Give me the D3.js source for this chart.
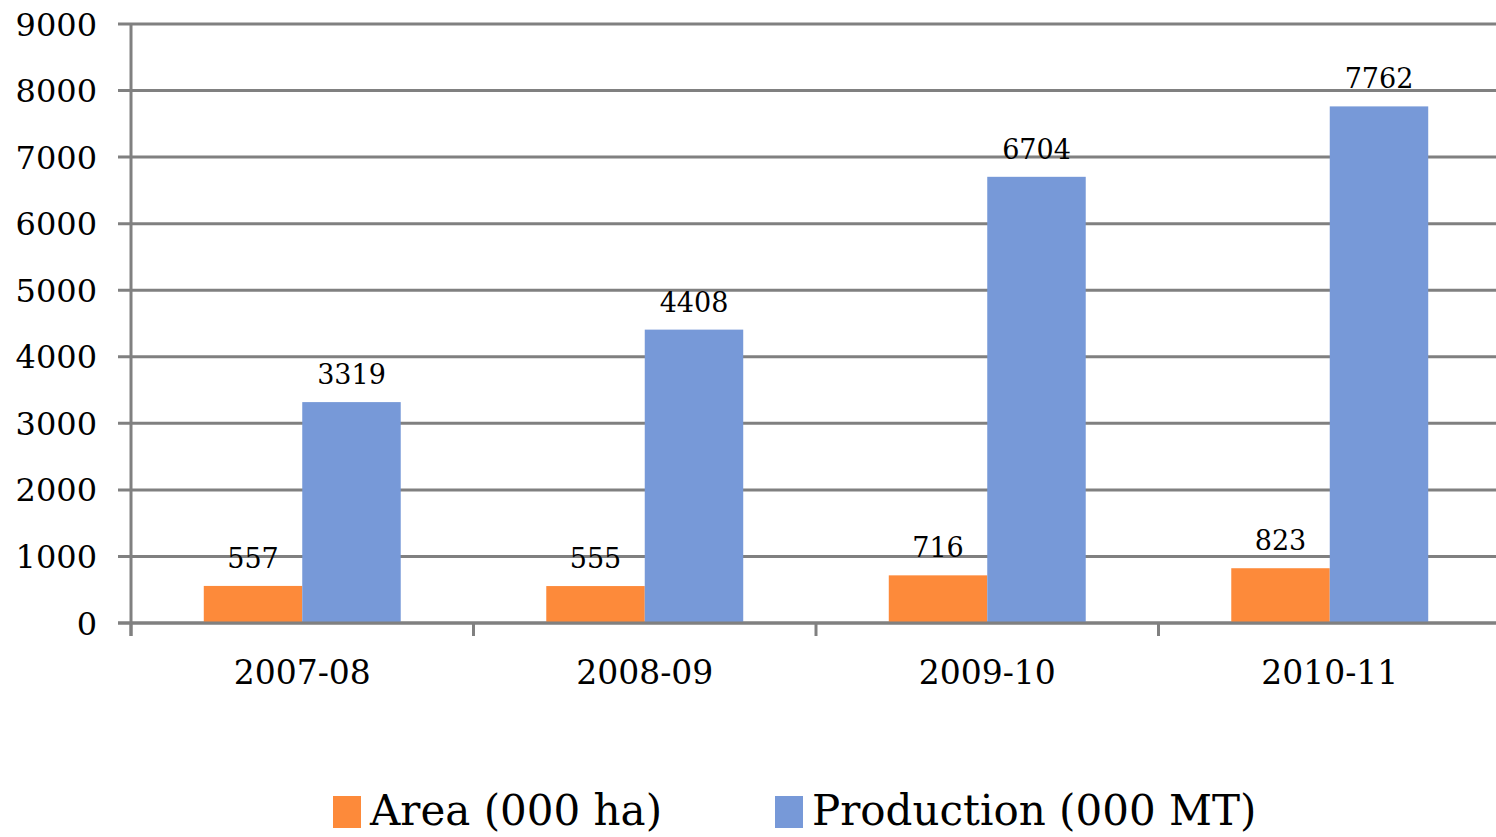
<!DOCTYPE html>
<html>
<head>
<meta charset="utf-8">
<script src="https://cdn.jsdelivr.net/npm/d3@7/dist/d3.min.js"></script>
<style>
  html, body { margin: 0; padding: 0; background: #ffffff; }
  svg { display: block; }
  text { font-family: "DejaVu Serif", "Liberation Serif", serif; fill: #000; }
</style>
</head>
<body>
<svg id="chart" width="1496" height="837"></svg>
<script>
// Crop area and production by season
const categories = ["2007-08", "2008-09", "2009-10", "2010-11"];
const seriesNames = ["Area (000 ha)", "Production (000 MT)"];
const areaValues = [557, 555, 716, 823];
const productionValues = [3319, 4408, 6704, 7762];
const yTicks = [0, 1000, 2000, 3000, 4000, 5000, 6000, 7000, 8000, 9000];
const seriesColors = ["#FD8A3A", "#7799D8"];

const rows = categories.map((c, i) => ({ cat: c, values: [areaValues[i], productionValues[i]] }));

const svg = d3.select("#chart");
const plotLeft = 131, plotRight = 1501, plotTop = 24, plotBottom = 623;
const grid = "#808080";

const y = d3.scaleLinear().domain([0, 9000]).range([plotBottom, plotTop]);
const x = d3.scaleBand().domain(categories).range([plotLeft, plotRight]).paddingInner(0).paddingOuter(0);
const x1 = d3.scaleBand().domain(seriesNames).range([0, x.bandwidth()]).paddingInner(0).paddingOuter(0.739);
const color = d3.scaleOrdinal().domain(seriesNames).range(seriesColors);

// horizontal gridlines with outward ticks
svg.append("g").selectAll("line").data(yTicks).join("line")
  .attr("x1", plotLeft - 13).attr("x2", 1496)
  .attr("y1", d => y(d)).attr("y2", d => y(d))
  .attr("stroke", grid).attr("stroke-width", 3);

// y axis line
svg.append("line")
  .attr("x1", plotLeft).attr("x2", plotLeft)
  .attr("y1", plotTop).attr("y2", plotBottom + 13)
  .attr("stroke", grid).attr("stroke-width", 3);

// y tick labels
svg.append("g").selectAll("text").data(yTicks).join("text")
  .attr("x", 97).attr("y", d => y(d))
  .attr("dy", "0.36em")
  .attr("text-anchor", "end")
  .style("font-size", "32px")
  .text(d => d);

// bars
const groups = svg.append("g").selectAll("g").data(rows).join("g")
  .attr("transform", d => `translate(${x(d.cat)},0)`);

groups.selectAll("rect")
  .data(d => d.values.map((v, j) => ({ key: seriesNames[j], v })))
  .join("rect")
  .attr("x", d => x1(d.key))
  .attr("width", x1.bandwidth())
  .attr("y", d => y(d.v))
  .attr("height", d => y(0) - y(d.v))
  .attr("fill", d => color(d.key));

// value labels
groups.selectAll("text.val")
  .data(d => d.values.map((v, j) => ({ key: seriesNames[j], v })))
  .join("text")
  .attr("class", "val")
  .attr("x", d => x1(d.key) + x1.bandwidth() / 2)
  .attr("y", d => y(d.v) - 18)
  .attr("text-anchor", "middle")
  .style("font-size", "27px")
  .text(d => d.v);

// x axis baseline and category boundary ticks
svg.append("line")
  .attr("x1", plotLeft - 13).attr("x2", 1496)
  .attr("y1", plotBottom).attr("y2", plotBottom)
  .attr("stroke", grid).attr("stroke-width", 3);

const bounds = categories.map(c => x(c)).concat([plotRight]);
svg.append("g").selectAll("line").data(bounds).join("line")
  .attr("x1", d => d).attr("x2", d => d)
  .attr("y1", plotBottom).attr("y2", plotBottom + 13)
  .attr("stroke", grid).attr("stroke-width", 3);

// category labels
svg.append("g").selectAll("text").data(categories).join("text")
  .attr("x", d => x(d) + x.bandwidth() / 2)
  .attr("y", 684)
  .attr("text-anchor", "middle")
  .style("font-size", "33px")
  .text(d => d);

// legend
const legendX = [333, 775];
const legend = svg.append("g").selectAll("g").data(seriesNames).join("g")
  .attr("transform", (d, i) => `translate(${legendX[i]},0)`);
legend.append("rect")
  .attr("x", 0).attr("y", 796).attr("width", 28).attr("height", 32)
  .attr("fill", d => color(d));
legend.append("text")
  .attr("x", 37).attr("y", 825)
  .style("font-size", "42px")
  .text(d => d);
</script>
</body>
</html>
